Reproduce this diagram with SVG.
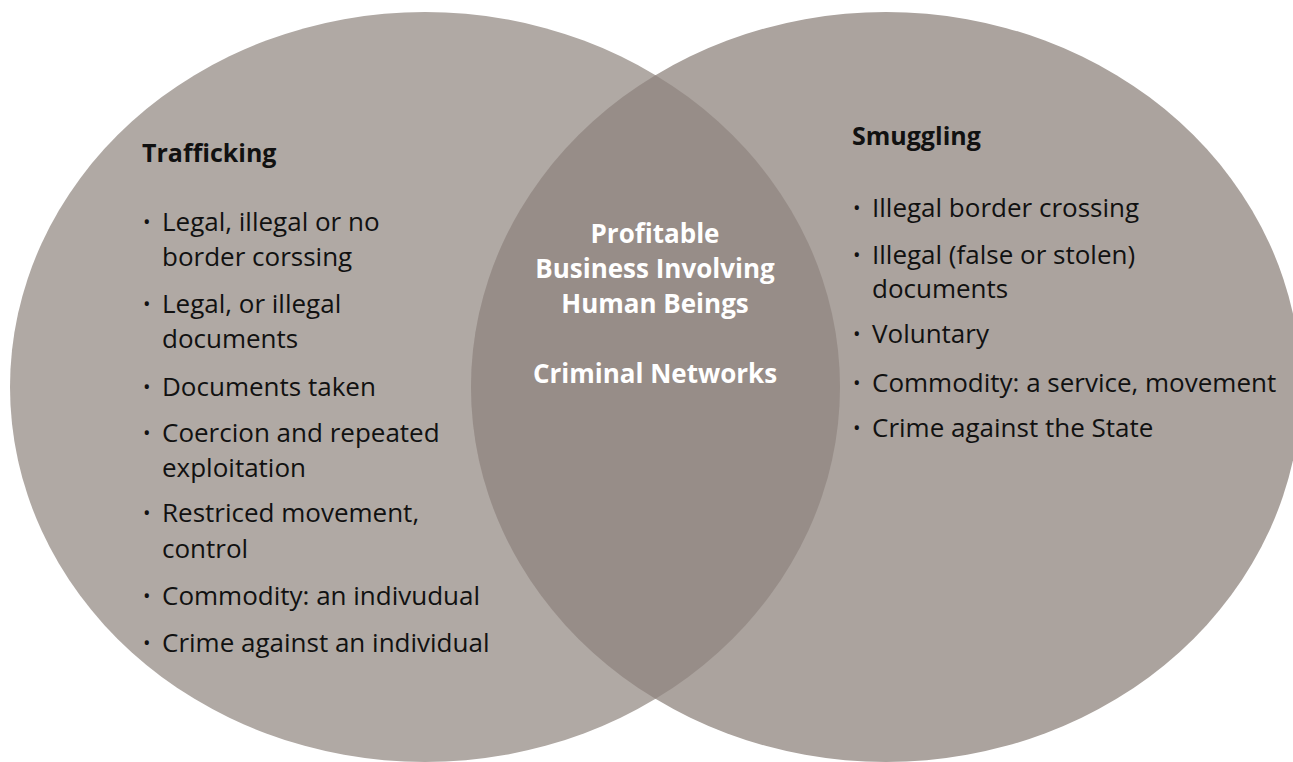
<svg xmlns="http://www.w3.org/2000/svg" width="1293" height="762" viewBox="0 0 1293 762">
<style>
.t{font-family:"Open Sans","Liberation Sans",sans-serif;font-size:26px;fill:#111}
.h{font-family:"Open Sans","Liberation Sans",sans-serif;font-size:25px;font-weight:bold;fill:#111}
.c{font-family:"Open Sans","Liberation Sans",sans-serif;font-size:26px;font-weight:bold;fill:#fff;text-anchor:middle}
.b{font-family:"Open Sans","Liberation Sans",sans-serif;font-size:20px;fill:#111}
</style>
<defs>
<clipPath id="clipL"><ellipse cx="425" cy="387" rx="415" ry="375"/></clipPath>
</defs>
<rect width="1293" height="762" fill="#fff"/>
<g id="trafficking">
<ellipse cx="425" cy="387" rx="415" ry="375" fill="#b0a9a4"/>
</g>
<g id="smuggling">
<ellipse cx="886" cy="387" rx="415" ry="375" fill="#aba39e"/>
</g>
<g id="overlap">
<ellipse cx="886" cy="387" rx="415" ry="375" fill="#978d88" clip-path="url(#clipL)"/>
</g>
<g id="trafficking-text">
<text class="h" x="142" y="162">Trafficking</text>
<text class="b" x="143" y="229">•</text><text class="t" x="162" y="231">Legal, illegal or no</text>
<text class="t" x="162" y="266">border corssing</text>
<text class="b" x="143" y="311">•</text><text class="t" x="162" y="313">Legal, or illegal</text>
<text class="t" x="162" y="348">documents</text>
<text class="b" x="143" y="394">•</text><text class="t" x="162" y="396">Documents taken</text>
<text class="b" x="143" y="440">•</text><text class="t" x="162" y="442">Coercion and repeated</text>
<text class="t" x="162" y="477">exploitation</text>
<text class="b" x="143" y="520">•</text><text class="t" x="162" y="522">Restriced movement,</text>
<text class="t" x="162" y="558">control</text>
<text class="b" x="143" y="603">•</text><text class="t" x="162" y="605">Commodity: an indivudual</text>
<text class="b" x="143" y="650">•</text><text class="t" x="162" y="652">Crime against an individual</text>
</g>
<g id="smuggling-text">
<text class="h" x="852" y="145">Smuggling</text>
<text class="b" x="853" y="215">•</text><text class="t" x="872" y="217">Illegal border crossing</text>
<text class="b" x="853" y="262">•</text><text class="t" x="872" y="264">Illegal (false or stolen)</text>
<text class="t" x="872" y="298">documents</text>
<text class="b" x="853" y="341">•</text><text class="t" x="872" y="343">Voluntary</text>
<text class="b" x="853" y="390">•</text><text class="t" x="872" y="392">Commodity: a service, movement</text>
<text class="b" x="853" y="435">•</text><text class="t" x="872" y="437">Crime against the State</text>
</g>
<g id="overlap-text">
<text class="c" x="655" y="243">Profitable</text>
<text class="c" x="655" y="278">Business Involving</text>
<text class="c" x="655" y="313">Human Beings</text>
<text class="c" x="655" y="383">Criminal Networks</text>
</g>
</svg>
